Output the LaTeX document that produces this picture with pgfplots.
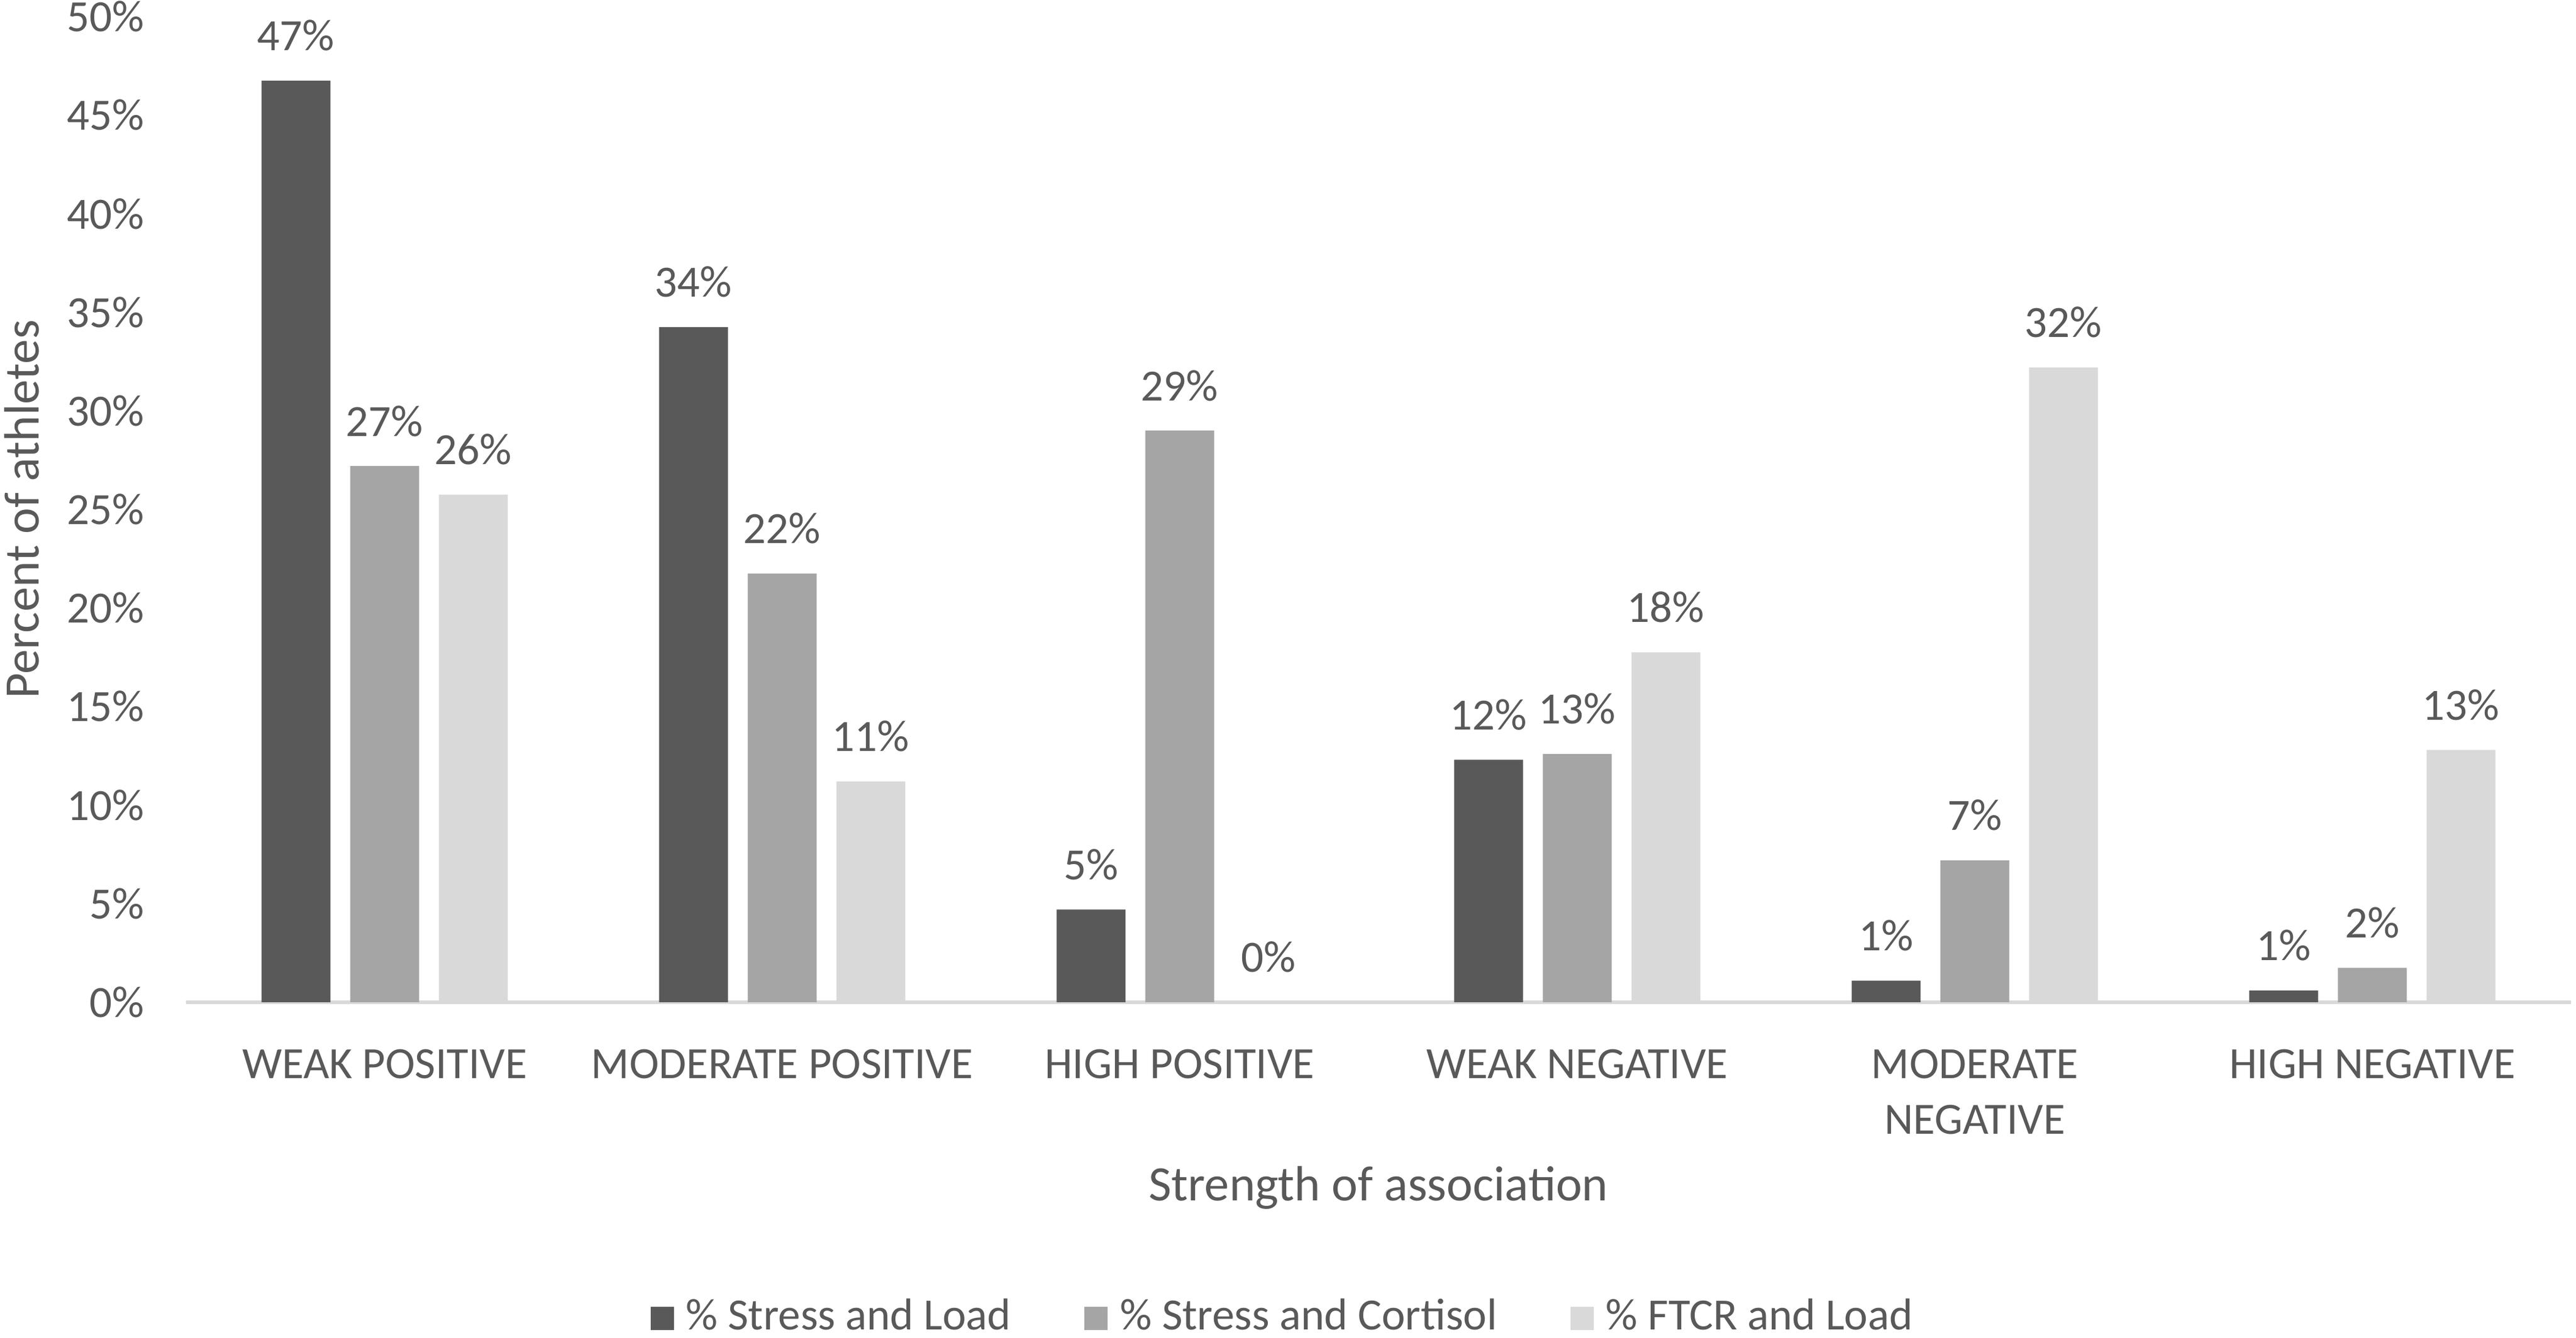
\documentclass[border=0pt]{standalone}
\usepackage{pgfplots}
\pgfplotsset{compat=1.18}
\usepackage{fontspec}
\setmainfont{Carlito}
\definecolor{cdark}{HTML}{595959}
\definecolor{cmid}{HTML}{A5A5A5}
\definecolor{clight}{HTML}{D9D9D9}
\definecolor{ctext}{HTML}{595959}
\begin{document}
\begin{tikzpicture}
\useasboundingbox (-30.4pt,-54.9pt) rectangle (390.8pt,163.9pt);
\begin{axis}[
  scale only axis,
  width=390pt, height=161.2pt,
  xmin=-0.5, xmax=5.5,
  ymin=0, ymax=50,
  ybar=3.22pt,
  bar width=11.28pt,
  axis y line*=left,
  y axis line style={draw=none},
  axis x line*=bottom,
  x axis line style={draw=clight, line width=0.6pt, -},
  xtick={0,1,2,3,4,5},
  xticklabels={WEAK POSITIVE, MODERATE POSITIVE, HIGH POSITIVE, WEAK NEGATIVE, MODERATE\\NEGATIVE, HIGH NEGATIVE},
  xticklabel style={align=center, text=ctext, font=\fontsize{7.3}{9.1}\selectfont, yshift=-4.2pt},
  major tick length=0pt,
  ytick={0,5,...,50},
  yticklabel={\pgfmathprintnumber{\tick}\%},
  yticklabel style={text=ctext, font=\fontsize{7.3}{9}\selectfont, xshift=-3.3pt},
  /pgf/number format/assume math mode=true,
  xlabel={Strength of association},
  xlabel style={at={(axis description cs:0.5,-0.188)}, anchor=center, text=ctext, font=\fontsize{8.1}{10}\selectfont},
  nodes near coords={\pgfmathprintnumber[fixed,precision=0]{\pgfplotspointmeta}\%},
  nodes near coords style={text=ctext, font=\fontsize{7.3}{9}\selectfont, anchor=base, inner sep=0pt, yshift=4.9pt},
  legend style={at={(axis description cs:0.462,-0.321)}, anchor=center, draw=none, fill=none,
    legend columns=3, font=\fontsize{7.3}{9}\selectfont, text=ctext,
    /tikz/every even column/.append style={column sep=10pt}},
  legend image code/.code={\fill[#1] (0pt,-1.9pt) rectangle (3.8pt,1.9pt);},
  clip=false,
]
\addplot[fill=cdark, draw=none] coordinates {(0,46.75) (1,34.25) (2,4.7) (3,12.3) (4,1.1) (5,0.6)};
\addplot[fill=cmid, draw=none] coordinates {(0,27.2) (1,21.75) (2,29.0) (3,12.6) (4,7.2) (5,1.75)};
\addplot[fill=clight, draw=none] coordinates {(0,25.75) (1,11.2) (2,0) (3,17.75) (4,32.2) (5,12.8)};
\legend{\% Stress and Load, \% Stress and Cortisol, \% FTCR and Load}
\end{axis}
\node[rotate=90, text=ctext, font=\fontsize{8.1}{10}\selectfont, anchor=center] at (-26.8pt, 80.6pt) {Percent of athletes};
\end{tikzpicture}
\end{document}
